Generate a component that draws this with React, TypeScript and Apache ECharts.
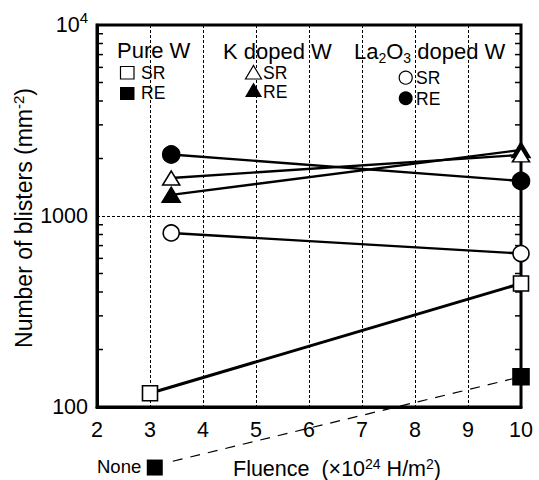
import React, { useEffect, useRef } from "react";
import * as echarts from "echarts";

// ---- data (fluence ×10^24 H/m², blisters per mm²) ----
const pureW_SR: number[][] = [[3, 118], [10, 443]];
const pureW_RE: number[][] = [[10, 144]];
const none_RE_marker: number[][] = [[3.09, 48.2]];
const none_RE_link: number[][] = [[3.43, 52], [10, 144]];
const kDoped_SR: number[][] = [[3.4, 1581], [10, 2090]];
const kDoped_RE: number[][] = [[3.4, 1290], [10, 2216]];
const la_SR: number[][] = [[3.4, 815], [10, 636]];
const la_RE: number[][] = [[3.4, 2099], [10, 1525]];
const yMinorTicks: number[] = [200, 300, 400, 500, 600, 700, 800, 900, 2000, 3000, 4000, 5000, 6000, 7000, 8000, 9000];
const xRange = [2, 10];
const yRange = [100, 10000];

const FONT = "'Liberation Sans', Arial, Helvetica, sans-serif";

export default function App() {
  const ref = useRef<HTMLDivElement>(null);
  useEffect(() => {
    document.body.style.margin = "0";
    const chart = echarts.init(ref.current!, null, { renderer: "svg" });

    const lineSeries = (name: string, data: number[][], symbol: string, size: any, filled: boolean, width: number) => ({
      name,
      type: "line",
      data,
      symbol,
      symbolSize: size,
      showSymbol: true,
      lineStyle: { color: "#000", width },
      itemStyle: {
        color: filled ? "#000" : "#fff",
        borderColor: "#000",
        borderWidth: 1.6,
        opacity: 1,
      },
      z: 3,
    });

    const txt = (text: string, x: number, y: number, size: number, extra: any = {}) => ({
      type: "text",
      x,
      y,
      z: 10,
      style: {
        text,
        fontSize: size,
        fontFamily: FONT,
        fill: "#000",
        align: "left",
        verticalAlign: "middle",
        textAlign: "left",
        textVerticalAlign: "middle",
        ...extra,
      },
    });

    chart.setOption({
      animation: false,
      textStyle: { fontFamily: FONT },
      grid: {
        left: 97,
        right: 18,
        top: 25,
        bottom: 73,
        show: true,
        borderColor: "#000",
        borderWidth: 3,
        backgroundColor: "transparent",
      },
      xAxis: {
        type: "value",
        min: xRange[0],
        max: xRange[1],
        interval: 1,
        axisLine: { show: true, lineStyle: { color: "#000", width: 3 } },
        axisTick: { show: false },
        axisLabel: { color: "#000", fontSize: 21.5, fontFamily: FONT, margin: 12 },
        splitLine: { show: true, lineStyle: { color: "#000", width: 1, type: [3, 2] } },
      },
      yAxis: {
        type: "log",
        logBase: 10,
        min: yRange[0],
        max: yRange[1],
        axisLine: { show: true, lineStyle: { color: "#000", width: 3 } },
        axisTick: { show: false },
        axisLabel: {
          color: "#000",
          fontSize: 21.5,
          fontFamily: FONT,
          margin: 9,
          formatter: (v: number) => (v >= 10000 ? "10{sup|4}" : String(Math.round(v))),
          rich: {
            sup: { fontSize: 15, lineHeight: 15, padding: [0, 0, 15, 0], fontFamily: FONT, color: "#000" },
          },
        },
        splitLine: { show: true, lineStyle: { color: "#000", width: 1, type: [3, 2] } },
      },
      series: [
        {
          type: "custom",
          silent: true,
          data: yMinorTicks.map((v) => [xRange[0], v]),
          renderItem: (params: any, api: any) => {
            const v = api.value(1);
            const pL = api.coord([xRange[0], v]);
            const pR = api.coord([xRange[1], v]);
            return {
              type: "group",
              children: [
                { type: "line", shape: { x1: pL[0], y1: pL[1], x2: pL[0] + 6, y2: pL[1] }, style: { stroke: "#000", lineWidth: 1.5 } },
                { type: "line", shape: { x1: pR[0] - 6, y1: pR[1], x2: pR[0], y2: pR[1] }, style: { stroke: "#000", lineWidth: 1.5 } },
              ],
            };
          },
          z: 2,
        },
        {
          type: "line",
          data: none_RE_link,
          showSymbol: false,
          symbol: "none",
          clip: false,
          lineStyle: { color: "#000", width: 1.2, type: [10, 8] },
          z: 2,
        },
        {
          type: "scatter",
          data: none_RE_marker,
          symbol: "rect",
          symbolSize: 16,
          clip: false,
          itemStyle: { color: "#000", opacity: 1 },
          z: 4,
        },
        lineSeries("Pure W SR", pureW_SR, "rect", 15, false, 3),
        lineSeries("Pure W RE", pureW_RE, "rect", 16, true, 3),
        lineSeries("La2O3 SR", la_SR, "circle", 16, false, 2.4),
        lineSeries("La2O3 RE", la_RE, "circle", 17, true, 2.4),
        lineSeries("K RE", kDoped_RE, "triangle", [18, 15], true, 2.4),
        lineSeries("K SR", kDoped_SR, "triangle", [17, 14], false, 2.4),
      ],
      graphic: [
        // legend: Pure W
        txt("Pure W", 117, 50.5, 22),
        { type: "rect", z: 10, shape: { x: 120.5, y: 66.5, width: 13.5, height: 12.5 }, style: { fill: "#fff", stroke: "#000", lineWidth: 1.2 } },
        txt("SR", 141, 73, 17.5),
        { type: "rect", z: 10, shape: { x: 120, y: 87, width: 14.5, height: 13 }, style: { fill: "#000" } },
        txt("RE", 141, 93, 17.5),
        // legend: K doped W
        txt("K doped W", 223, 51, 22),
        { type: "polygon", z: 10, shape: { points: [[245.5, 79], [261.5, 79], [253.5, 65.5]] }, style: { fill: "#fff", stroke: "#000", lineWidth: 1.2 } },
        txt("SR", 263, 73, 17.5),
        { type: "polygon", z: 10, shape: { points: [[245, 97], [262, 97], [253.5, 82.5]] }, style: { fill: "#000" } },
        txt("RE", 263, 91.5, 17.5),
        // legend: La2O3 doped W
        txt("La{sub|2}O{sub|3} doped W", 354, 51, 22, {
          rich: { sub: { fontSize: 14, lineHeight: 14, padding: [13, 0, 0, 0], fontFamily: FONT, fill: "#000" } },
        }),
        { type: "circle", z: 10, shape: { cx: 405.7, cy: 77.7, r: 6.5 }, style: { fill: "#fff", stroke: "#000", lineWidth: 1.2 } },
        txt("SR", 416, 78, 17.5),
        { type: "circle", z: 10, shape: { cx: 405.7, cy: 98.3, r: 7 }, style: { fill: "#000" } },
        txt("RE", 416, 98.5, 17.5),
        // None label
        txt("None", 97, 466, 18.5),
        // x-axis title
        txt("Fluence  (×10{sup|24} H/m{sup|2})", 233, 469, 21.5, {
          rich: { sup: { fontSize: 14, lineHeight: 14, padding: [0, 0, 10, 0], fontFamily: FONT, fill: "#000" } },
        }),
        // y-axis title
        {
          type: "text",
          x: 24,
          y: 218,
          rotation: Math.PI / 2,
          z: 10,
          style: {
            text: "Number of blisters (mm{sup|-2})",
            fontSize: 23,
            fontFamily: FONT,
            fill: "#000",
            align: "center",
            verticalAlign: "middle",
            textAlign: "center",
            textVerticalAlign: "middle",
            rich: { sup: { fontSize: 15, lineHeight: 15, padding: [0, 0, 12, 0], fontFamily: FONT, fill: "#000" } },
          },
        },
      ],
    });
    return () => chart.dispose();
  }, []);
  return <div ref={ref} style={{ width: 539, height: 480 }} />;
}
